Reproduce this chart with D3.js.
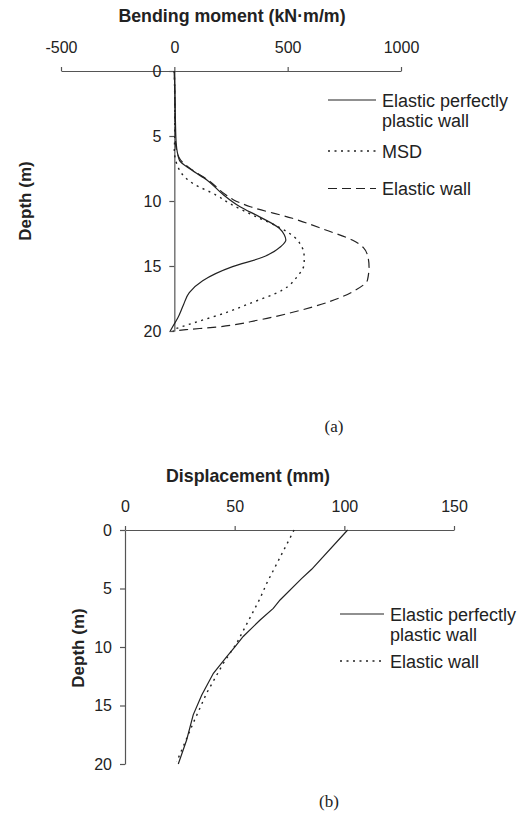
<!DOCTYPE html>
<html>
<head>
<meta charset="utf-8">
<script src="https://cdn.jsdelivr.net/npm/d3@7"></script>
<style>
  body { margin: 0; background: #fff; }
  svg { display: block; }
  text { font-family: "Liberation Sans", Arial, sans-serif; fill: #222; }
</style>
</head>
<body>
<svg id="chart" width="519" height="827"></svg>
<script>
// ---- (a) bending moment vs depth ----
var momentTicks = [-500, 0, 500, 1000];
var depthTicks = [0, 5, 10, 15, 20];

var eppMomentDepth = [0, 2, 4, 5.5, 6.85, 7.6, 8.4, 9.5, 10.44, 11.2, 12.1, 12.6, 13.0, 13.5, 14.33, 15.05, 16.13, 17.05, 18.0, 19.0, 19.6, 20];
var eppMoment      = [0, 3, 5, 8, 22, 75, 145, 215, 290, 374, 463, 485, 492, 470, 389, 257, 125, 66, 40, 15, -5, -18];

var msdDepth  = [0, 3, 5, 6.1, 7.6, 8.64, 9.54, 10.2, 11.2, 12.0, 13.0, 13.4, 14.0, 14.8, 15.8, 16.85, 17.9, 18.5, 19.4, 19.9];
var msdMoment = [0, 2, 2, 0, 22, 81, 184, 245, 360, 460, 543, 558, 572, 573, 543, 477, 330, 242, 81, -8];

var elasticMomentDepth = [0, 3, 5.5, 6.7, 7.6, 8.4, 9.5, 9.9, 10.44, 11.33, 12.23, 13.0, 13.6, 14.15, 15.05, 16.08, 16.85, 17.75, 18.5, 19.15, 19.7, 19.9, 20];
var elasticMoment      = [0, 3, 5, 22, 78, 150, 225, 260, 335, 521, 668, 785, 835, 852, 859, 852, 800, 683, 536, 374, 184, 51, -8];

// ---- (b) displacement vs depth ----
var dispTicks = [0, 50, 100, 150];

var eppDispDepth = [0, 3.36, 4.13, 5.98, 6.7, 7.69, 9.1, 9.97, 10.83, 12.25, 14.1, 15.8, 17.95, 20];
var eppDisp      = [101.5, 85.1, 80.6, 70.7, 67.6, 61.6, 53.9, 50.2, 46.4, 40.3, 35.0, 31.1, 28.1, 24.3];

var elasticDispDepth = [0, 4.56, 5.84, 9.69, 11.4, 13.95, 16.5, 19.8];
var elasticDisp      = [77.1, 64.6, 61.6, 50.9, 44.8, 37.2, 31.1, 23.6];

var svg = d3.select("#chart");
var lineColor = "#222";
var axisColor = "#555";
var DOTS = "2,4.5";
var DASHES = "9,5";

function zip(ds, vs){
	var out = [];
	for(var i = 0; i < ds.length; i++) out.push({d: ds[i], v: vs[i]});
	return out;
}

function drawPanel(cfg){
	var g = svg.append("g");
	var x = d3.scaleLinear().domain(cfg.xDomain).range(cfg.xRange);
	var y = d3.scaleLinear().domain([0, 20]).range(cfg.yRange);

	// plain hyphen minus, no thousands comma
	var fmt = function(d){ return String(d); };

	var xa = g.append("g")
		.attr("transform", "translate(0," + cfg.yRange[0] + ")")
		.call(d3.axisTop(x).tickValues(cfg.xTicks).tickFormat(fmt).tickSizeInner(4).tickSizeOuter(0).tickPadding(14));
	var ya = g.append("g")
		.attr("transform", "translate(" + x(0) + ",0)")
		.call(d3.axisLeft(y).tickValues(depthTicks).tickFormat(fmt).tickSizeInner(5).tickSizeOuter(0).tickPadding(8));

	[xa, ya].forEach(function(a){
		a.select(".domain").attr("stroke", axisColor).attr("stroke-width", 1.2);
		a.selectAll(".tick line").attr("stroke", axisColor).attr("stroke-width", 1.2);
		a.selectAll(".tick text").attr("font-size", 16).attr("fill", "#222");
	});

	// axis titles
	g.append("text")
		.attr("x", cfg.xTitlePos[0]).attr("y", cfg.xTitlePos[1])
		.attr("text-anchor", "middle").attr("font-size", 17.8).attr("font-weight", "bold")
		.text(cfg.xTitle);
	g.append("text")
		.attr("transform", "translate(" + cfg.yTitlePos[0] + "," + cfg.yTitlePos[1] + ") rotate(-90)")
		.attr("text-anchor", "middle").attr("dy", "0.35em").attr("font-size", 17).attr("font-weight", "bold")
		.text("Depth (m)");

	var line = d3.line()
		.x(function(p){ return x(p.v); })
		.y(function(p){ return y(p.d); })
		.curve(cfg.curve);

	cfg.series.forEach(function(s){
		g.append("path")
			.datum(zip(s.depth, s.values))
			.attr("d", line)
			.attr("fill", "none")
			.attr("stroke", lineColor)
			.attr("stroke-width", s.dash == DOTS ? 1.4 : 1.2)
			.attr("stroke-dasharray", s.dash);
	});

	// legend
	cfg.series.forEach(function(s, i){
		var ly = cfg.legendY[i];
		g.append("line")
			.attr("x1", cfg.legendX[0]).attr("x2", cfg.legendX[1])
			.attr("y1", ly).attr("y2", ly)
			.attr("stroke", lineColor)
			.attr("stroke-width", s.dash == DOTS ? 1.4 : 1.2)
			.attr("stroke-dasharray", s.dash);
		var t = g.append("text")
			.attr("x", cfg.legendX[1] + 6).attr("y", ly + 6.5)
			.attr("font-size", 18);
		s.label.forEach(function(l, k){
			t.append("tspan").attr("x", cfg.legendX[1] + 6).attr("dy", k == 0 ? 0 : 20).text(l);
		});
	});

	svg.append("text")
		.attr("x", cfg.tag[1]).attr("y", cfg.tag[2])
		.attr("text-anchor", "middle").attr("font-size", 17)
		.style("font-family", "Liberation Serif, Times New Roman, serif")
		.text(cfg.tag[0]);
}

drawPanel({
	xDomain: [-500, 1000], xRange: [61, 401], yRange: [71, 331],
	xTicks: momentTicks,
	xTitle: "Bending moment (kN\u00b7m/m)", xTitlePos: [232, 22],
	yTitlePos: [25, 201],
	curve: d3.curveMonotoneY,
	series: [
		{depth: eppMomentDepth, values: eppMoment, dash: null, label: ["Elastic perfectly", "plastic wall"]},
		{depth: msdDepth, values: msdMoment, dash: DOTS, label: ["MSD"]},
		{depth: elasticMomentDepth, values: elasticMoment, dash: DASHES, label: ["Elastic wall"]}
	],
	legendX: [328, 376], legendY: [100, 151, 188.5],
	tag: ["(a)", 334, 432]
});

drawPanel({
	xDomain: [0, 150], xRange: [125, 454], yRange: [530, 764],
	xTicks: dispTicks,
	xTitle: "Displacement (mm)", xTitlePos: [248, 482],
	yTitlePos: [78, 648],
	curve: d3.curveLinear,
	series: [
		{depth: eppDispDepth, values: eppDisp, dash: null, label: ["Elastic perfectly", "plastic wall"]},
		{depth: elasticDispDepth, values: elasticDisp, dash: DOTS, label: ["Elastic wall"]}
	],
	legendX: [340, 384], legendY: [614, 661],
	tag: ["(b)", 329, 807]
});
</script>
</body>
</html>
